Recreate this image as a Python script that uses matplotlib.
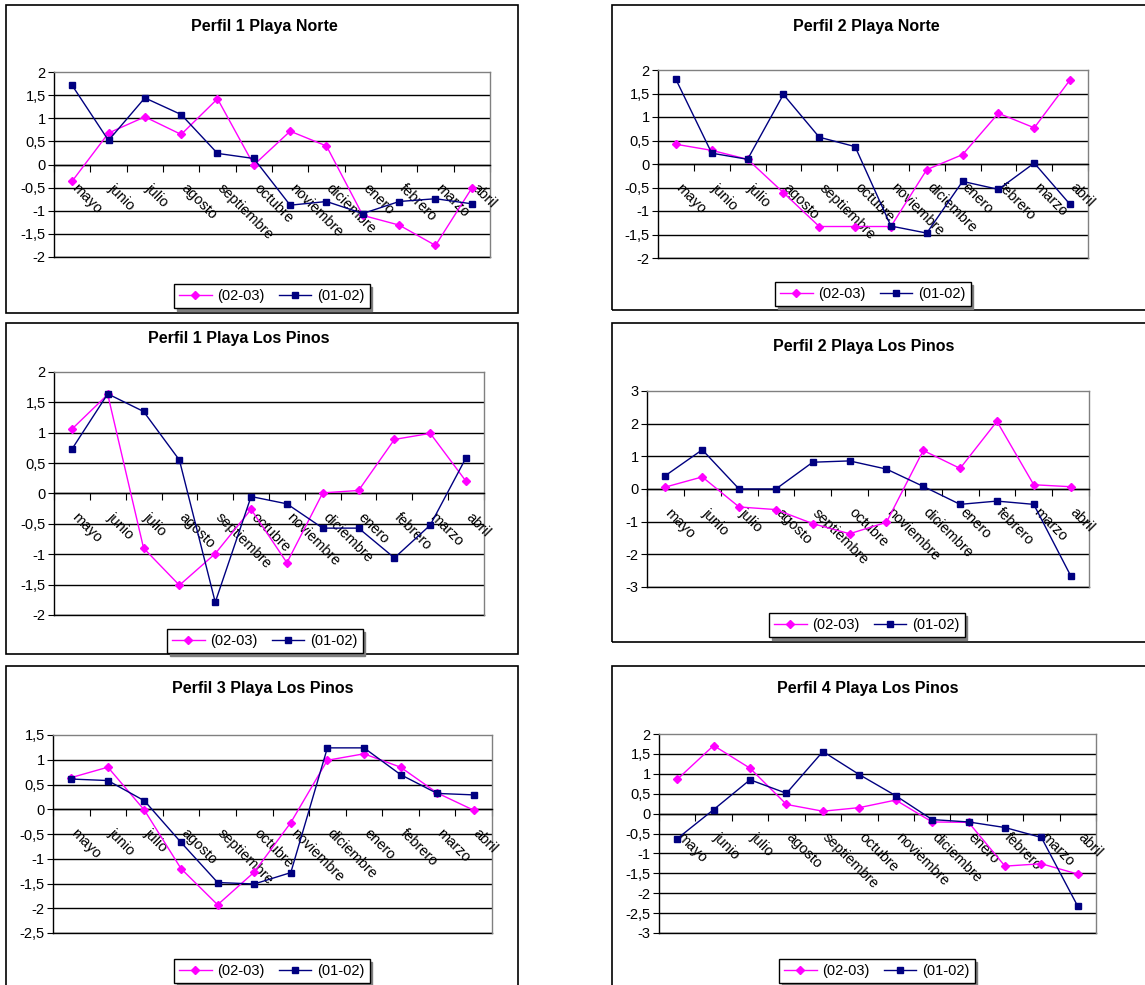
import matplotlib
matplotlib.use("Agg")
import matplotlib.pyplot as plt
import numpy as np
from matplotlib.patches import Rectangle
from matplotlib.ticker import FuncFormatter, MultipleLocator

plt.rcParams['font.family'] = ['Liberation Sans', 'DejaVu Sans']

# ---------------- data ----------------
months = ["mayo", "junio", "julio", "agosto", "septiembre", "octubre",
          "noviembre", "diciembre", "enero", "febrero", "marzo", "abril"]
series_names = ["(02-03)", "(01-02)"]

titles = ["Perfil 1 Playa Norte", "Perfil 2 Playa Norte",
          "Perfil 1 Playa Los Pinos", "Perfil 2 Playa Los Pinos",
          "Perfil 3 Playa Los Pinos", "Perfil 4 Playa Los Pinos"]

p1n_0203 = [-0.36, 0.68, 1.03, 0.65, 1.42, -0.01, 0.72, 0.40, -1.10, -1.31, -1.75, -0.51]
p1n_0102 = [1.71, 0.52, 1.44, 1.08, 0.24, 0.13, -0.88, -0.80, -1.06, -0.80, -0.74, -0.85]

p2n_0203 = [0.42, 0.29, 0.10, -0.61, -1.33, -1.33, -1.33, -0.12, 0.20, 1.08, 0.77, 1.79]
p2n_0102 = [1.80, 0.23, 0.10, 1.48, 0.57, 0.37, -1.32, -1.47, -0.37, -0.54, 0.02, -0.86]

p1p_0203 = [1.06, 1.63, -0.90, -1.51, -0.99, -0.26, -1.14, 0.01, 0.05, 0.89, 0.99, 0.20]
p1p_0102 = [0.73, 1.64, 1.35, 0.55, -1.79, -0.05, -0.17, -0.57, -0.57, -1.06, -0.52, 0.59]

p2p_0203 = [0.06, 0.37, -0.55, -0.63, -1.06, -1.37, -1.02, 1.18, 0.63, 2.07, 0.13, 0.07]
p2p_0102 = [0.41, 1.20, 0.00, 0.00, 0.82, 0.86, 0.61, 0.08, -0.47, -0.37, -0.47, -2.65]

p3p_0203 = [0.64, 0.85, -0.02, -1.20, -1.93, -1.27, -0.27, 0.99, 1.12, 0.85, 0.33, -0.02]
p3p_0102 = [0.61, 0.58, 0.17, -0.67, -1.48, -1.51, -1.28, 1.24, 1.24, 0.70, 0.32, 0.29]

p4p_0203 = [0.86, 1.71, 1.14, 0.23, 0.06, 0.15, 0.34, -0.21, -0.22, -1.32, -1.26, -1.52]
p4p_0102 = [-0.63, 0.10, 0.85, 0.51, 1.56, 0.98, 0.45, -0.15, -0.21, -0.35, -0.60, -2.33]

series_0203 = [p1n_0203, p2n_0203, p1p_0203, p2p_0203, p3p_0203, p4p_0203]
series_0102 = [p1n_0102, p2n_0102, p1p_0102, p2p_0102, p3p_0102, p4p_0102]

y_ranges = [(-2, 2, 0.5), (-2, 2, 0.5), (-2, 2, 0.5), (-3, 3, 1), (-2.5, 1.5, 0.5), (-3, 2, 0.5)]

# ---------------- layout (pixels) ----------------
W, H = 1145, 985
boxes = [(6, 5, 518, 313), (612, 5, 1152, 310), (6, 323, 518, 654),
         (612, 323, 1152, 642), (6, 666, 518, 992), (612, 666, 1152, 992)]
plot_areas = [(54, 72, 490, 257), (658, 70, 1088, 258), (54, 372, 484, 615),
              (647, 391, 1089, 587), (53, 735, 492, 933), (659, 734, 1096, 933)]
title_pos = [(264, 27), (866, 27), (239, 338), (864, 346), (263, 689), (868, 689)]
legend_pos = [(272, 296), (873, 294), (265, 641), (867, 625), (272, 971), (877, 971)]

PINK = '#FF00FF'
NAVY = '#000080'
FS = 10.5

fig = plt.figure(figsize=(W / 100, H / 100), dpi=100)
fig.patch.set_facecolor('white')


def fx(x):
    return x / W


def fy(y):
    return 1 - y / H


def fmt(v, pos):
    return ('%g' % round(v, 2)).replace('.', ',')


for k in range(6):
    bx0, by0, bx1, by1 = boxes[k]
    fig.add_artist(Rectangle((fx(bx0), fy(by1)), (bx1 - bx0) / W, (by1 - by0) / H,
                             transform=fig.transFigure, fill=False,
                             edgecolor='black', lw=1.2, zorder=0))
    x0, y0, x1, y1 = plot_areas[k]
    ax = fig.add_axes([fx(x0), fy(y1), (x1 - x0) / W, (y1 - y0) / H])
    ymin, ymax, step = y_ranges[k]
    ax.set_xlim(0, 12)
    ax.set_ylim(ymin, ymax)
    ax.yaxis.set_major_locator(MultipleLocator(step))
    ax.yaxis.set_major_formatter(FuncFormatter(fmt))
    ax.tick_params(axis='y', direction='out', length=4, width=0.8,
                   labelsize=FS, pad=2, color='black')
    for v in np.arange(ymin, ymax, step):
        ax.axhline(v, color='black', lw=1.0, zorder=1)
    for side in ('top', 'right'):
        ax.spines[side].set_color('#808080')
        ax.spines[side].set_linewidth(1.0)
    ax.spines['left'].set_color('black')
    ax.spines['left'].set_linewidth(1.0)
    ax.spines['bottom'].set_position(('data', 0))
    ax.spines['bottom'].set_color('black')
    ax.spines['bottom'].set_linewidth(1.0)
    ax.set_xticks(np.arange(0, 13))
    ax.set_xticklabels([])
    ax.tick_params(axis='x', direction='out', length=5, width=0.8, color='black')
    ax.plot([0, 12], [ymin, ymin], color='black', lw=1.0, clip_on=False, zorder=1)

    xs = np.arange(len(months)) + 0.5
    l1, = ax.plot(xs, series_0203[k], color=PINK, lw=1.0, marker='D', ms=4.5,
                  mec=PINK, mfc=PINK, zorder=4, clip_on=False, label=series_names[0])
    l2, = ax.plot(xs, series_0102[k], color=NAVY, lw=1.0, marker='s', ms=4.5,
                  mec=NAVY, mfc=NAVY, zorder=5, clip_on=False, label=series_names[1])

    for i, m in enumerate(months):
        ax.annotate(m, xy=(xs[i], 0), xycoords='data', xytext=(5, -12),
                    textcoords='offset points', rotation=-45,
                    rotation_mode='anchor', ha='left', va='top', fontsize=FS,
                    zorder=3)

    tx, ty = title_pos[k]
    fig.text(fx(tx), fy(ty), titles[k], ha='center', va='center',
             fontsize=11.5, fontweight='bold')

    lx, ly = legend_pos[k]
    leg = fig.legend(handles=[l1, l2], loc='center', bbox_to_anchor=(fx(lx), fy(ly)),
                     bbox_transform=fig.transFigure, ncol=2, fontsize=FS,
                     frameon=True, fancybox=False, edgecolor='black', framealpha=1,
                     numpoints=1, handlelength=2.2, handletextpad=0.4,
                     columnspacing=1.0, borderpad=0.35, borderaxespad=0,
                     shadow={'color': '#808080', 'alpha': 1})
    leg.get_frame().set_linewidth(1.0)

fig.savefig('out.png', dpi=100, facecolor='white')
